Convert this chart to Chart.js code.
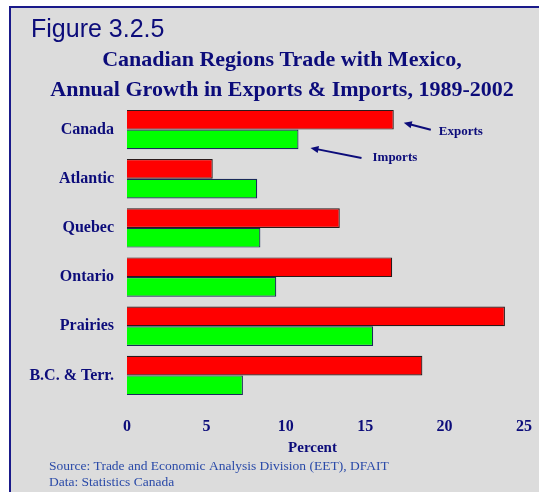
<!DOCTYPE html>
<html>
<head>
<meta charset="utf-8">
<script src="https://cdn.jsdelivr.net/npm/chart.js@4.4.1/dist/chart.umd.min.js"></script>
<style>
  html, body { margin: 0; padding: 0; background: #fff; }
  #wrap { position: relative; width: 539px; height: 492px; }
</style>
</head>
<body>
<div id="wrap"><canvas id="tradeChart" width="539" height="492"></canvas></div>
<script>
// Regions and annual growth (%), 1989-2002
const regions = ['Canada', 'Atlantic', 'Quebec', 'Ontario', 'Prairies', 'B.C. & Terr.'];
const exportsGrowth = [16.8, 5.4, 13.4, 16.7, 23.8, 18.6];
const importsGrowth = [10.8, 8.2, 8.4, 9.4, 15.5, 7.3];
const xTicks = [0, 5, 10, 15, 20, 25];

const NAVY = '#0c0c7a';
const SERIF = '"Liberation Serif", "Times New Roman", serif';

// Frame, headings, notes and the two arrow callouts
const decorPlugin = {
  id: 'decor',
  beforeDraw(chart) {
    const ctx = chart.ctx;
    const W = chart.width, H = chart.height;
    ctx.save();
    ctx.fillStyle = '#ffffff';
    ctx.fillRect(0, 0, W, H);
    ctx.fillStyle = '#dcdcdc';
    ctx.fillRect(10, 7, W - 10, H - 7);
    ctx.strokeStyle = '#1a1a8a';
    ctx.lineWidth = 2;
    ctx.beginPath();
    ctx.moveTo(10, H);
    ctx.lineTo(10, 7);
    ctx.lineTo(W, 7);
    ctx.stroke();
    ctx.restore();
  },
  afterDraw(chart) {
    const ctx = chart.ctx;
    const x = chart.scales.x;
    ctx.save();
    ctx.fillStyle = NAVY;
    ctx.textBaseline = 'alphabetic';

    ctx.font = '25px "Liberation Sans", Arial, sans-serif';
    ctx.textAlign = 'left';
    ctx.fillText('Figure 3.2.5', 31, 37);

    ctx.font = 'bold 22px ' + SERIF;
    ctx.textAlign = 'center';
    ctx.fillText('Canadian Regions Trade with Mexico,', 282, 66);
    ctx.fillText('Annual Growth in Exports & Imports, 1989-2002', 282, 96);

    ctx.font = 'bold 15px ' + SERIF;
    ctx.fillText('Percent', (x.left + x.right) / 2 - 13, 452);

    ctx.font = '13.5px ' + SERIF;
    ctx.fillStyle = '#2a4aa8';
    ctx.textAlign = 'left';
    ctx.fillText('Source: Trade and Economic Analysis Division (EET), DFAIT', 49, 470);
    ctx.fillText('Data: Statistics Canada', 49, 486);

    // callouts pointing at the Canada bars
    const b0 = chart.getDatasetMeta(0).data[0];
    const b1 = chart.getDatasetMeta(1).data[0];
    const arrows = [
      { label: 'Exports', tipX: b0.x + 10, tipY: b0.y + 3, tailX: b0.x + 37, tailY: b0.y + 10, dx: 8, dy: 2 },
      { label: 'Imports', tipX: b1.x + 12, tipY: b1.y + 8.5, tailX: b1.x + 63, tailY: b1.y + 18.5, dx: 11, dy: 0 }
    ];
    ctx.strokeStyle = NAVY;
    ctx.fillStyle = NAVY;
    ctx.lineWidth = 2;
    arrows.forEach(a => {
      const ang = Math.atan2(a.tipY - a.tailY, a.tipX - a.tailX);
      ctx.beginPath();
      ctx.moveTo(a.tailX, a.tailY);
      ctx.lineTo(a.tipX - 5 * Math.cos(ang), a.tipY - 5 * Math.sin(ang));
      ctx.stroke();
      ctx.beginPath();
      ctx.moveTo(a.tipX, a.tipY);
      ctx.lineTo(a.tipX - 8 * Math.cos(ang) + 3.5 * Math.sin(ang), a.tipY - 8 * Math.sin(ang) - 3.5 * Math.cos(ang));
      ctx.lineTo(a.tipX - 8 * Math.cos(ang) - 3.5 * Math.sin(ang), a.tipY - 8 * Math.sin(ang) + 3.5 * Math.cos(ang));
      ctx.closePath();
      ctx.fill();
      ctx.font = 'bold 13px ' + SERIF;
      ctx.textAlign = 'left';
      ctx.textBaseline = 'middle';
      ctx.fillText(a.label, a.tailX + a.dx, a.tailY + a.dy);
    });
    ctx.restore();
  }
};

const ctx = document.getElementById('tradeChart').getContext('2d');
new Chart(ctx, {
  type: 'bar',
  data: {
    labels: regions,
    datasets: [
      {
        label: 'Exports',
        data: exportsGrowth,
        backgroundColor: '#ff0000',
        borderColor: '#2a1a1a',
        borderWidth: 1.2,
        categoryPercentage: 0.8,
        barPercentage: 1.0
      },
      {
        label: 'Imports',
        data: importsGrowth,
        backgroundColor: '#00ff00',
        borderColor: '#1a2a5a',
        borderWidth: 1.2,
        categoryPercentage: 0.8,
        barPercentage: 1.0
      }
    ]
  },
  options: {
    indexAxis: 'y',
    responsive: false,
    animation: false,
    layout: { padding: { left: 0, right: 15, top: 105, bottom: 0 } },
    plugins: {
      legend: { display: false },
      tooltip: { enabled: false }
    },
    scales: {
      x: {
        min: 0,
        max: 25,
        afterBuildTicks(axis) { axis.ticks = xTicks.map(v => ({ value: v })); },
        afterFit(axis) {
          axis.height = 92;
          axis.paddingLeft = 0;
          axis.paddingRight = 0;
        },
        grid: { display: false, drawTicks: false },
        border: { display: false },
        ticks: { color: NAVY, padding: 17, font: { family: SERIF, size: 16, weight: 'bold' } }
      },
      y: {
        afterFit(axis) {
          axis.width = 127;
          axis.paddingTop = 0;
          axis.paddingBottom = 0;
        },
        grid: { display: false, drawTicks: false },
        border: { display: false },
        ticks: { color: NAVY, padding: 13, font: { family: SERIF, size: 16, weight: 'bold' } }
      }
    }
  },
  plugins: [decorPlugin]
});
</script>
</body>
</html>
